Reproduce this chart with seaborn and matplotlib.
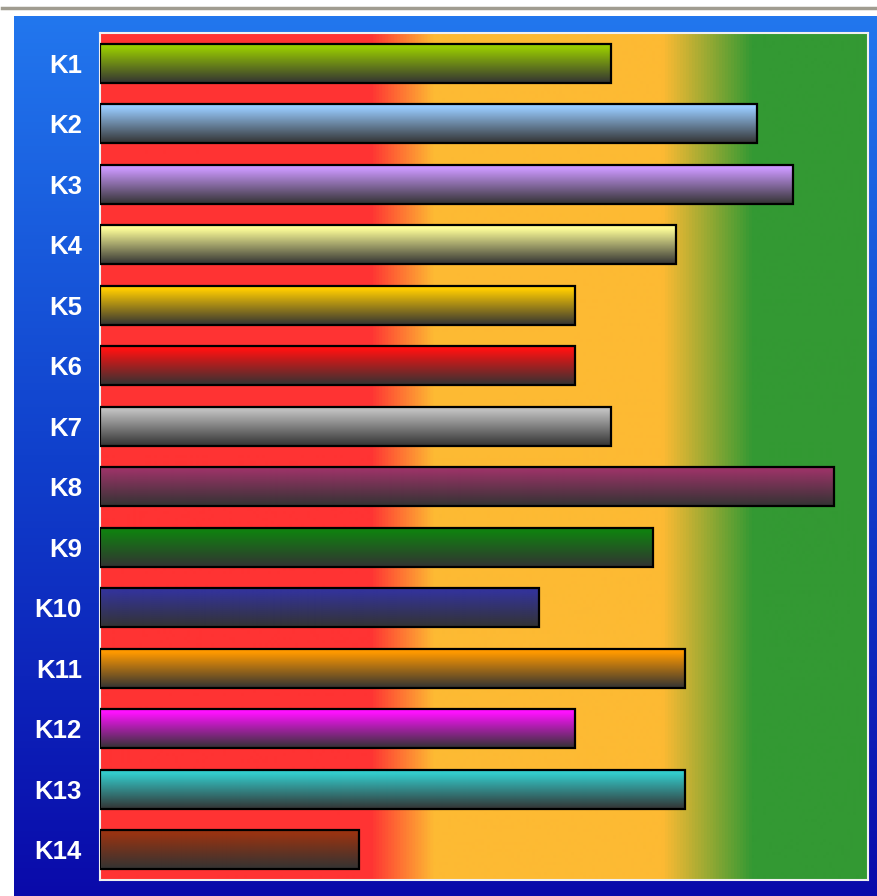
import numpy as np
import pandas as pd
import matplotlib
matplotlib.use("Agg")
import matplotlib.pyplot as plt
import seaborn as sns
from matplotlib.colors import LinearSegmentedColormap, to_rgb
from matplotlib.lines import Line2D

labels = ["K1", "K2", "K3", "K4", "K5", "K6", "K7", "K8", "K9", "K10", "K11", "K12", "K13", "K14"]
values = [66.5, 85.5, 90.2, 75.0, 61.8, 61.8, 66.5, 95.6, 72.0, 57.2, 76.2, 61.8, 76.2, 33.7]
bar_colors = ["#99CC00", "#99CCFF", "#CC99FF", "#FFFF99", "#FFCC00", "#FF1111", "#C0C0C0",
              "#993366", "#108010", "#333399", "#FF9900", "#FF11FF", "#33CCCC", "#993311"]

W, H = 877, 896
fig = plt.figure(figsize=(W / 100, H / 100), dpi=100, facecolor="white")

# blue gradient panel
bg = fig.add_axes([14 / W, 0, 1 - 14 / W, 880 / H])
bg.axis("off")
grad = np.linspace(0, 1, 256).reshape(-1, 1)
cmap_bg = LinearSegmentedColormap.from_list("bg", ["#2277EE", "#1040CC", "#0A0AAA"])
bg.imshow(grad, aspect="auto", cmap=cmap_bg, extent=[0, 1, 0, 1], origin="upper")
bg.set_xlim(0, 1)
bg.set_ylim(0, 1)

# gray top line
fig.add_artist(Line2D([2 / W, 1], [1 - 8.5 / H, 1 - 8.5 / H], color="#A09C90", lw=2.5))

ax = fig.add_axes([100 / W, 16 / H, 768 / W, 847 / H])
df = pd.DataFrame({"label": labels, "value": values})
sns.barplot(data=df, x="value", y="label", hue="label", palette=bar_colors, legend=False,
            orient="h", width=0.65, edgecolor="black", linewidth=1.6, saturation=1, ax=ax)

xmin, xmax = 0, 100
ymin, ymax = 13.5, -0.5

# zone gradient background
zone_cmap = LinearSegmentedColormap.from_list(
    "zones",
    [(0.0, "#FF3333"), (0.352, "#FF3333"), (0.434, "#FDBA33"),
     (0.733, "#FDBA33"), (0.85, "#339933"), (1.0, "#339933")])
ax.imshow(np.linspace(0, 1, 768).reshape(1, -1), cmap=zone_cmap, aspect="auto",
          extent=[xmin, xmax, ymin, ymax], zorder=0)

# bar vertical gradients
for patch in list(ax.patches):
    x0, y0 = patch.get_x(), patch.get_y()
    w, h = patch.get_width(), patch.get_height()
    top = np.array(to_rgb(patch.get_facecolor()))
    dark = np.array(to_rgb("#333333"))
    t = np.linspace(0, 1, 100)
    f = np.clip((t - 0.1) / 0.9, 0, 1).reshape(-1, 1)
    img = (top * (1 - f) + dark * f).reshape(100, 1, 3)
    ax.imshow(img, aspect="auto", extent=[x0, x0 + w, y0 + h, y0], origin="upper",
              zorder=2, interpolation="bilinear")
    patch.set_facecolor("none")
    patch.set_zorder(3)

ax.set_xlim(xmin, xmax)
ax.set_ylim(ymin, ymax)
ax.set_xticks([])
ax.set_xlabel("")
ax.set_ylabel("")
ax.set_yticks(range(len(labels)))
ax.set_yticklabels(labels, color="white", fontweight="bold", fontsize=18.5,
                   family=["Liberation Sans", "DejaVu Sans"])
ax.tick_params(axis="y", length=0, pad=13)
for s in ax.spines.values():
    s.set_color("#F0F0F0")
    s.set_linewidth(1.5)

fig.savefig("out.png", dpi=100, facecolor="white")
